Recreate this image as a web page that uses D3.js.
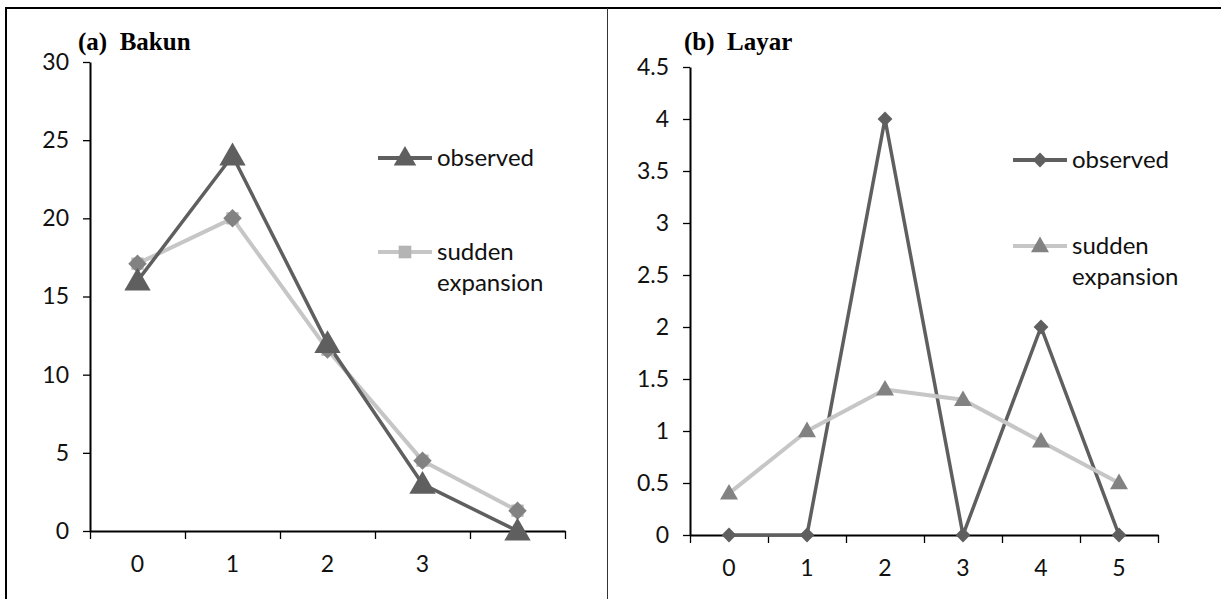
<!DOCTYPE html>
<html><head><meta charset="utf-8">
<script src="https://cdn.jsdelivr.net/npm/d3@7"></script>
<style>
body{margin:0;background:#fff;}
svg{display:block;}
.tick text{font-family:Lato,"Open Sans",sans-serif;font-size:23px;fill:#111;}
</style></head>
<body><svg id="c" width="1221" height="599"></svg>
<script>
// ---- data ----
const catsA = ["0","1","2","3",""];
const obsA = [16, 24, 12, 3, 0];
const sudA = [17.1, 20, 11.6, 4.5, 1.3];
const yTicksA = [0,5,10,15,20,25,30];

const catsB = ["0","1","2","3","4","5"];
const obsB = [0, 0, 4, 0, 2, 0];
const sudB = [0.4, 1.0, 1.4, 1.3, 0.9, 0.5];
const yTicksB = [0,0.5,1,1.5,2,2.5,3,3.5,4,4.5];

const titles = ["(a)  Bakun", "(b)  Layar"];
const legendNames = ["observed", ["sudden", "expansion"]];

const svg = d3.select("#c");
const DARK = "#5f5f5f", LIGHT = "#c6c6c6", MID = "#828282", SQ = "#b4b4b4";

// frame
svg.append("line").attr("x1",5).attr("x2",1221).attr("y1",8).attr("y2",8).attr("stroke","#000").attr("stroke-width",2);
svg.append("line").attr("x1",6).attr("x2",6).attr("y1",7).attr("y2",599).attr("stroke","#000").attr("stroke-width",2);
svg.append("line").attr("x1",607.5).attr("x2",607.5).attr("y1",8).attr("y2",599).attr("stroke","#333").attr("stroke-width",1);

function sym(type, size){
  if(type==="diamond"){ const r=Math.sqrt(size/2); return `M0,${-r}L${r},0L0,${r}L${-r},0Z`; }
  return d3.symbol().type(type).size(size)();
}

function panel(o){
  const g = svg.append("g");
  const n = o.cats.length;
  const xb = d3.scaleBand().domain(d3.range(n)).range([o.x0,o.x1]).padding(0);
  const xl = d3.scaleLinear().domain([0,n]).range([o.x0,o.x1]);
  const y = d3.scaleLinear().domain([0,o.ymax]).range([o.y0,o.y1]);
  const cx = i => xb(i) + xb.bandwidth()/2;

  // y axis
  const ya = g.append("g").attr("transform",`translate(${o.x0},0)`)
    .call(d3.axisLeft(y).tickValues(o.yTicks).tickSize(7).tickSizeOuter(0).tickPadding(14)
      .tickFormat(d=>String(d)));
  ya.select(".domain").attr("stroke","#000").attr("stroke-width",2);
  ya.selectAll(".tick line").attr("stroke","#000").attr("stroke-width",1.3);

  // x ticks at band boundaries
  const xt = g.append("g").attr("transform",`translate(0,${o.y0})`)
    .call(d3.axisBottom(xl).tickValues(d3.range(n+1)).tickSize(8).tickSizeOuter(0).tickFormat(""));
  xt.select(".domain").attr("stroke","#000").attr("stroke-width",2);
  xt.selectAll(".tick line").attr("stroke","#000").attr("stroke-width",1.3);
  // x labels
  const xa = g.append("g").attr("transform",`translate(0,${o.y0})`)
    .call(d3.axisBottom(xb).tickSize(0).tickPadding(o.labPad).tickFormat(i=>o.cats[i]));
  xa.select(".domain").remove();

  const line = d3.line().x((d,i)=>cx(i)).y(d=>y(d));
  // series
  o.series.forEach(s=>{
    g.append("path").datum(s.values).attr("d",line).attr("fill","none")
      .attr("stroke",s.lineColor).attr("stroke-width",s.lw).attr("stroke-linejoin","round");
  });
  o.series.forEach(s=>{
    s.markers.forEach(m=>{
      g.selectAll(null).data(s.values).join("path")
        .attr("transform",(d,i)=>`translate(${cx(i)},${y(d)+(m.dy||0)})`)
        .attr("d",sym(m.type,m.size)).attr("fill",m.color);
    });
  });

  // title
  g.append("text").attr("x",o.tx).attr("y",50).text(o.title)
    .attr("font-family","'Liberation Serif','Times New Roman',serif").attr("font-weight","bold")
    .attr("font-size",25).attr("fill","#000").style("white-space","pre");

  // legend
  o.legend.forEach(L=>{
    const lg = g.append("g");
    lg.append("line").attr("x1",o.lx).attr("x2",o.lx+54).attr("y1",L.y).attr("y2",L.y)
      .attr("stroke",L.lineColor).attr("stroke-width",4);
    lg.append("path").attr("transform",`translate(${o.lx+27},${L.y+(L.dy||0)})`)
      .attr("d",sym(L.type,L.size)).attr("fill",L.color);
    const lines = Array.isArray(L.name)?L.name:[L.name];
    lines.forEach((t,k)=>{
      lg.append("text").attr("x",o.lx+59).attr("y",L.y+8+k*31).text(t)
        .attr("font-family","Lato,'Open Sans',sans-serif").attr("font-size",24).attr("fill","#111");
    });
  });
}

panel({
  cats:catsA, x0:90, x1:565, y0:531, y1:62, ymax:30, yTicks:yTicksA, labPad:25,
  title:titles[0], tx:78, lx:378,
  series:[
    {values:sudA, lineColor:LIGHT, lw:4, markers:[{type:d3.symbolSquare,size:150,color:SQ},{type:"diamond",size:170,color:MID}]},
    {values:obsA, lineColor:DARK, lw:3.5, markers:[{type:d3.symbolTriangle,size:300,color:DARK,dy:2}]}
  ],
  legend:[
    {y:158, name:legendNames[0], lineColor:DARK, type:d3.symbolTriangle, size:220, color:DARK, dy:1},
    {y:252, name:legendNames[1], lineColor:LIGHT, type:d3.symbolSquare, size:160, color:SQ}
  ]
});

panel({
  cats:catsB, x0:690, x1:1158, y0:535, y1:67, ymax:4.5, yTicks:yTicksB, labPad:25,
  title:titles[1], tx:684, lx:1013,
  series:[
    {values:obsB, lineColor:DARK, lw:3.5, markers:[{type:"diamond",size:110,color:DARK}]},
    {values:sudB, lineColor:LIGHT, lw:4, markers:[{type:d3.symbolTriangle,size:140,color:MID,dy:1}]}
  ],
  legend:[
    {y:160, name:legendNames[0], lineColor:DARK, type:"diamond", size:110, color:DARK},
    {y:246, name:legendNames[1], lineColor:LIGHT, type:d3.symbolTriangle, size:140, color:MID, dy:1}
  ]
});
</script></body></html>
